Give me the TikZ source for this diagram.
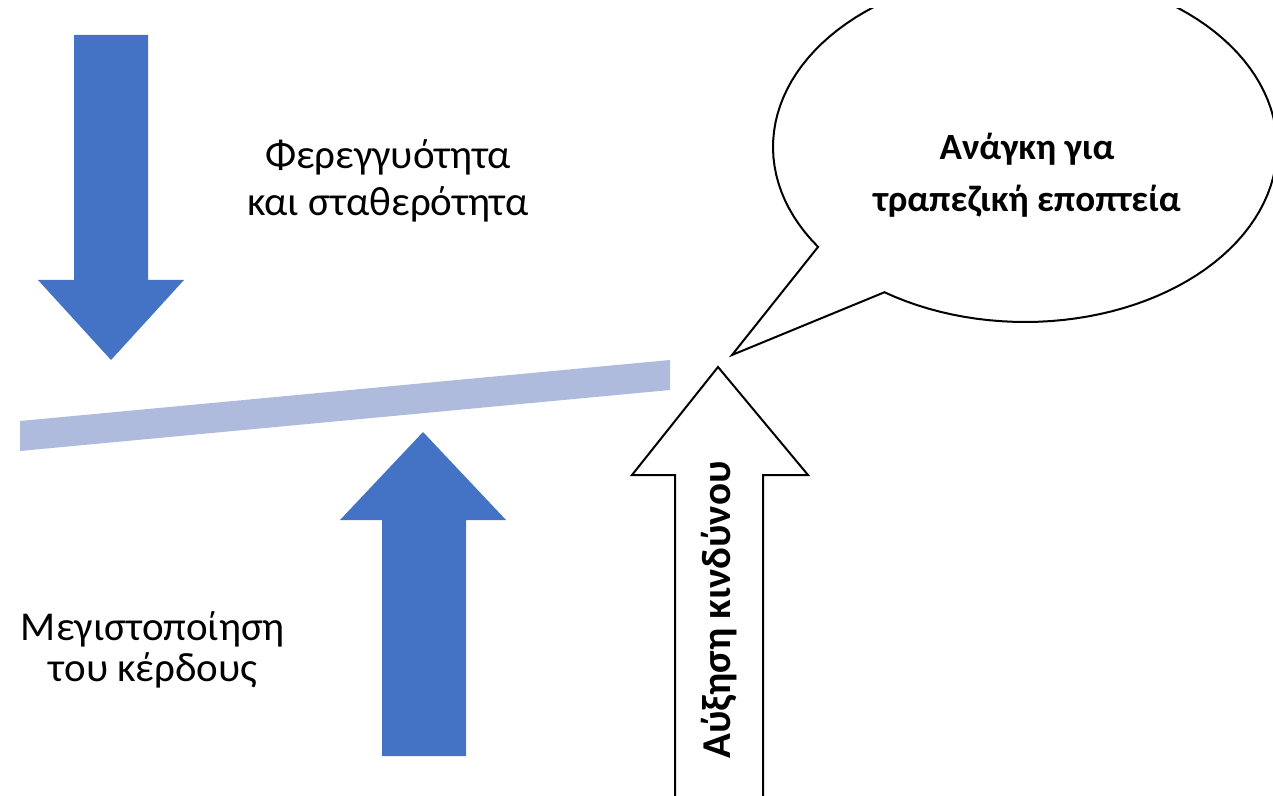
\documentclass[tikz,border=0pt]{standalone}
\usepackage{fontspec}
\setmainfont{Carlito}
\usetikzlibrary{shapes,arrows}
\definecolor{accent}{RGB}{68,114,196}
\definecolor{lever}{RGB}{174,187,221}

\begin{document}
\begin{tikzpicture}[x=0.5pt,y=-0.5pt,
  txt/.style={align=center,inner sep=0pt,font=\fontsize{20.5}{23.5}\selectfont},
  btxt/.style={align=center,inner sep=0pt,font=\bfseries\fontsize{18.5}{26}\selectfont},
  outline/.style={draw=black,line width=1pt,fill=white,line join=miter}]
\useasboundingbox (0,0) rectangle (1273,796);
\clip (0,0) rectangle (1273,796);
\fill[accent] (74,35) -- (148,35) -- (148,280) -- (184,280) -- (111,360) -- (38,280) -- (74,280) -- cycle;
\fill[lever] (20,421) -- (670,360) -- (670,390) -- (20,451) -- cycle;
\fill[accent] (382,756) -- (382,520) -- (340,520) -- (423,432) -- (506,520) -- (466,520) -- (466,756) -- cycle;
\draw[outline] (675,800) -- (675,475) -- (632,475) -- (718,367) -- (808,475) -- (763,475) -- (763,800);
\begin{scope}
\clip (0,9) rectangle (1273,796);
\coordinate (tip) at (732,355);
\draw[outline] plot[domain=145.2:483.9,samples=120] ({1025+252*cos(\x)},{147+175*sin(\x)}) -- (tip) -- cycle;
\end{scope}
\node[txt] (solv) at (388,181) {Φερεγγυότητα\\και σταθερότητα};
\node[txt,font=\fontsize{20.5}{20.5}\selectfont] (prof) at (153,650) {Μεγιστοποίηση\\του κέρδους};
\node[btxt] (need) at (1027,175) {Ανάγκη για\\τραπεζική εποπτεία};
\node[btxt,rotate=90,font=\bfseries\fontsize{20.5}{24}\selectfont] (risk) at (719,610) {Αύξηση κινδύνου};
\end{tikzpicture}
\end{document}
